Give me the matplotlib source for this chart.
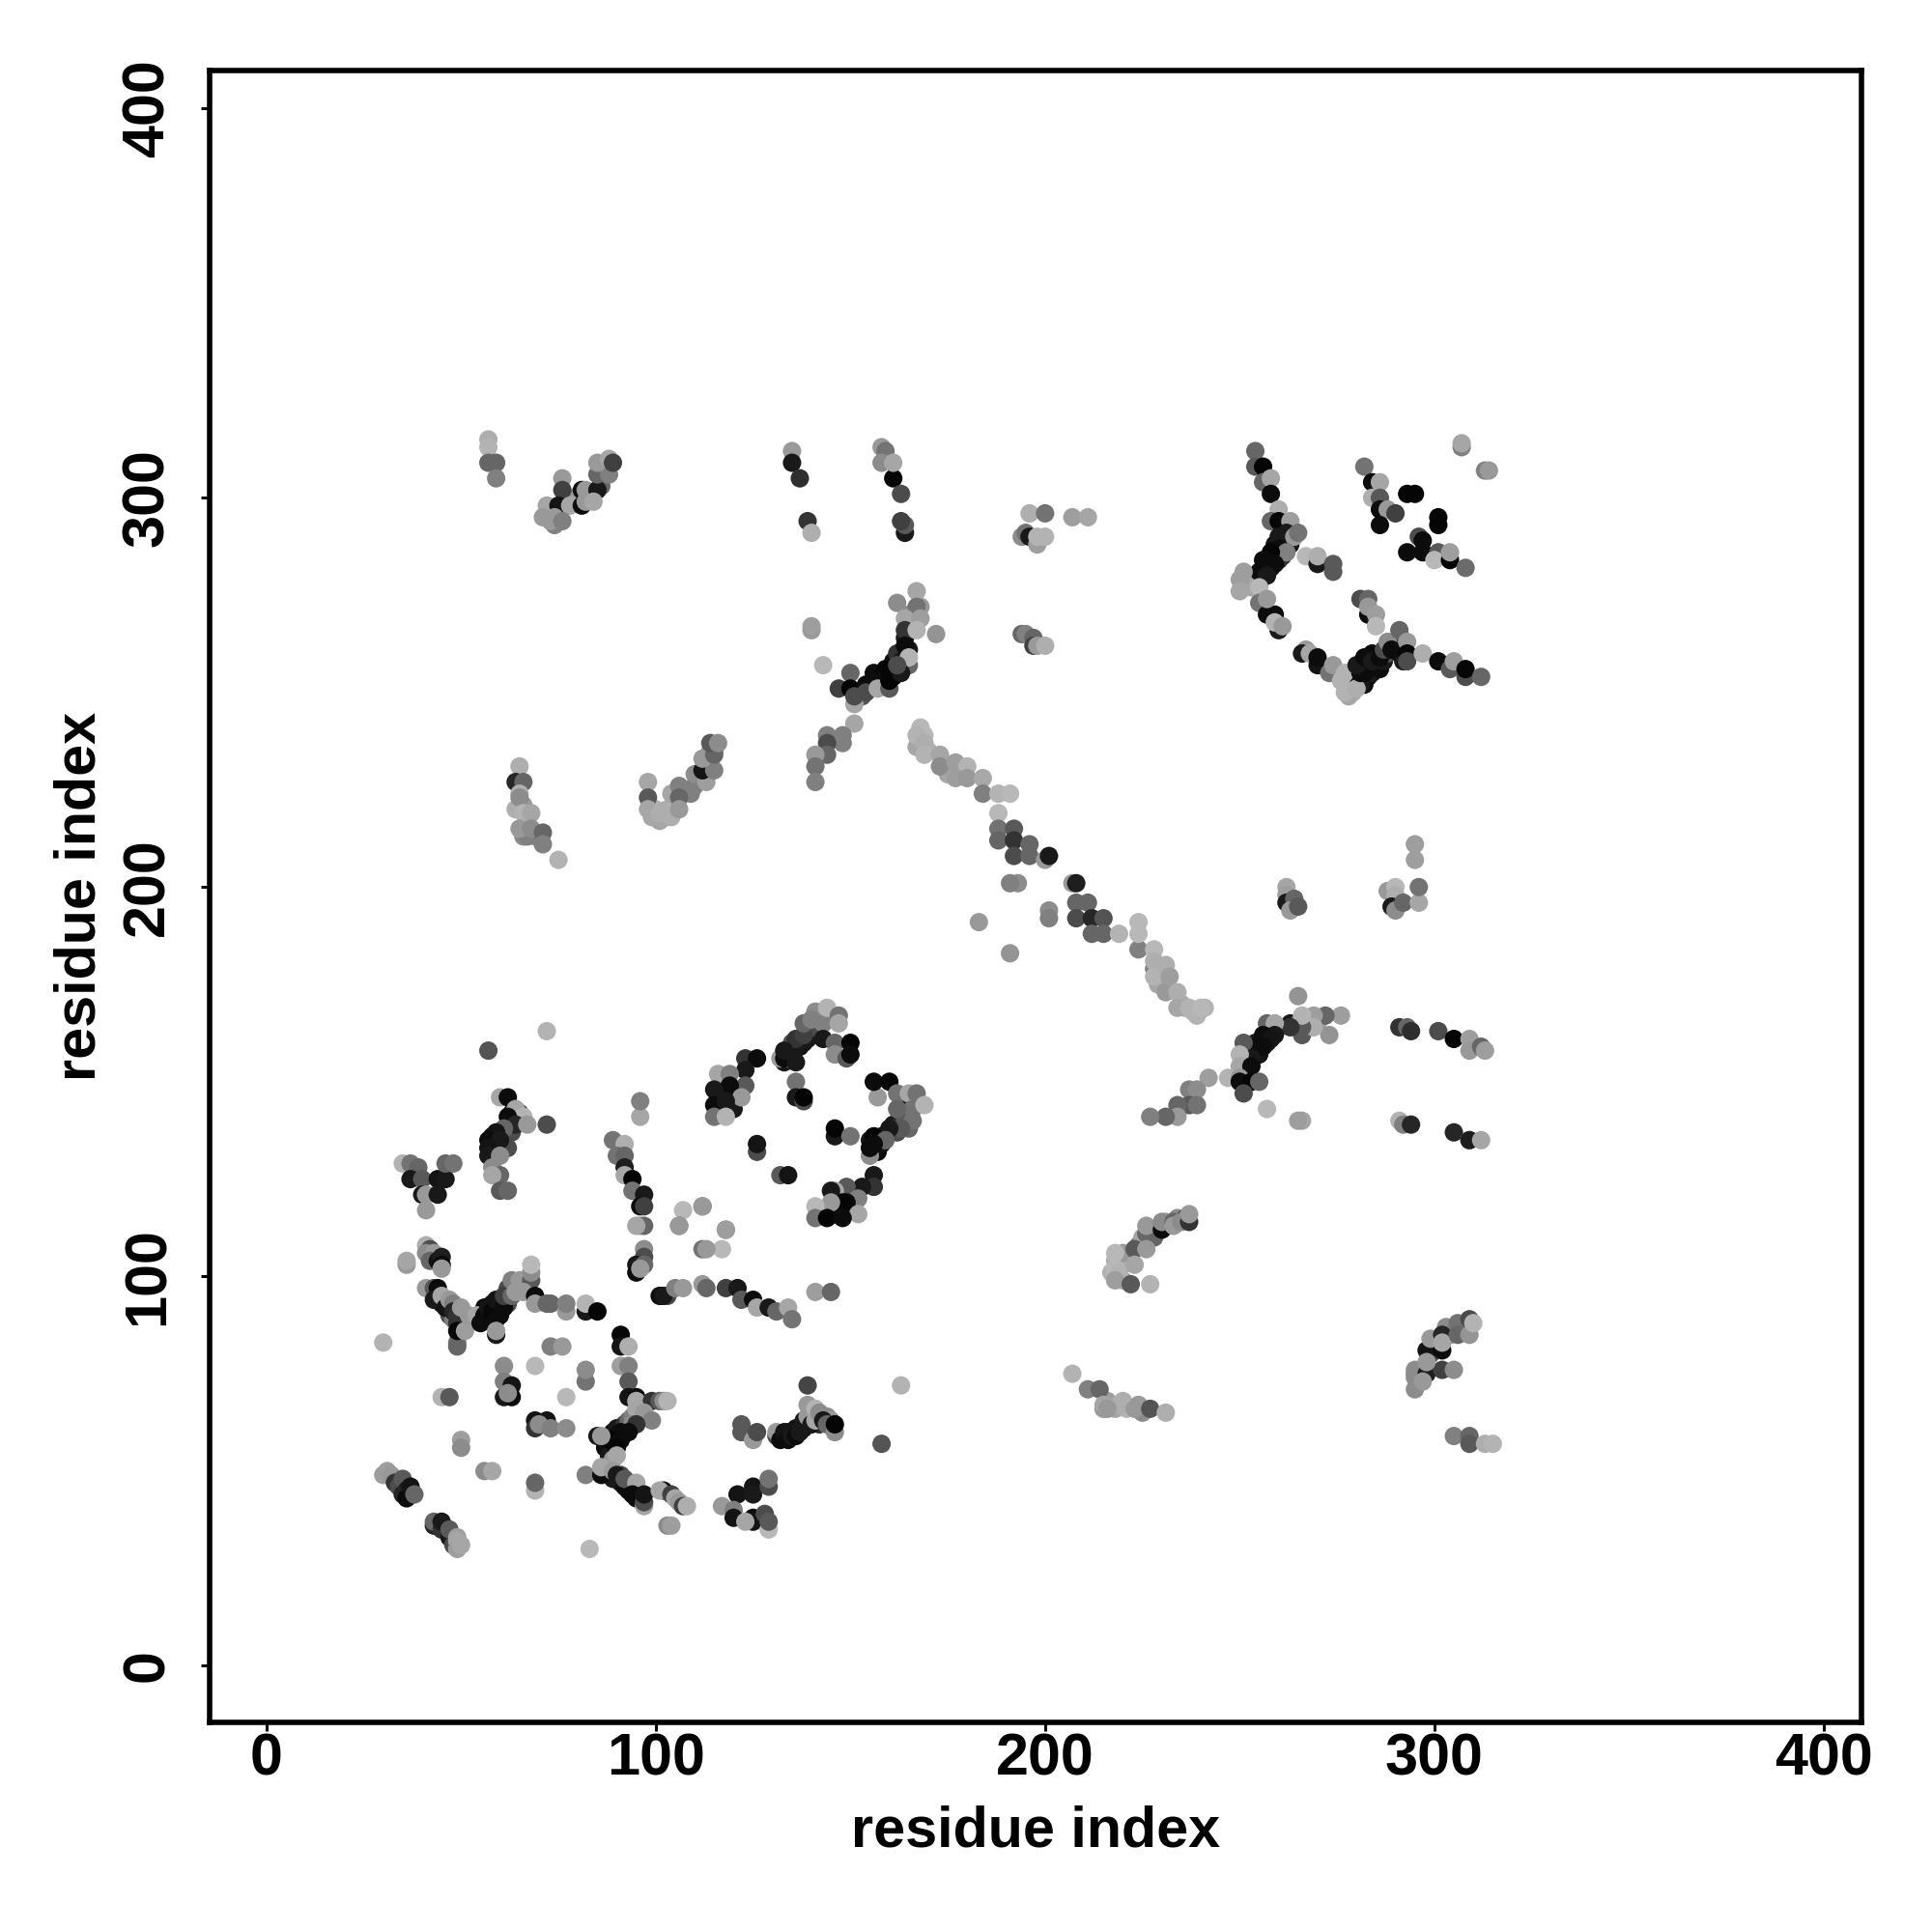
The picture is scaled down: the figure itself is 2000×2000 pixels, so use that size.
import numpy as np
import matplotlib
matplotlib.use('Agg')
import matplotlib.pyplot as plt

plt.rcParams['font.family'] = ['Liberation Sans', 'DejaVu Sans']

# (residue i, residue j, grey level)
dense_bands = [(55,90,.05),(56,92,.05),(57,89,.05),(58,93,.05),(59,91,.02),(60,90,.05),(60,94,.1),(61,93,.05),(62,97,.3),(62,93,.3),(65,97,.55),
               (44,95,.08),(45,93,.1),(46,94,.3),(47,90,.3),(47,92,.1),(48,89,.5),(49,88,.2),(50,89,.6),(51,88,.4),
               (87,56,.05),(88,56,.05),(89,57,.02),(89,60,.05),(90,61,.1),(91,58,.05),(92,60,.1),(92,62,.2),(93,63,.4),(94,64,.5),(96,64,.4),(88,54,.1),(89,53,.6),
               (88,49,.15),(89,48,.1),(91,47,.1),(91,49,.3),(93,47,.35),(93,45,.05),(95,45,.1),(95,43,.05),
               (58,134,.05),(59,133,.05),(58,136,.02),(60,137,.1),(61,136,.05),(62,139,.1),(63,142,.1),(63,137,.3),(62,133,.3),(64,141,.3),(65,142,.3),
               (133,155,.1),(134,156,.6),(135,158,.05),(135,160,.3),(137,159,.05),(137,161,.1),(138,160,.08),(139,163,.35),(139,161,.1),(140,164,.4),(141,164,.3),(141,168,.55),
               (157,132,.05),(158,134,.08),(159,136,.1),(160,137,.05),(161,139,.1),(162,137,.3),(163,139,.2),(164,141,.35),(165,138,.4),(155,135,.1),(163,144,.1),
               (148,117,.05),(146,116,.02),(146,118,.05),(150,118,.3),(150,121,.2),(147,121,.1),(116,146,.05),(117,148,.1),(118,150,.4),(120,146,.3),(120,143,.1),
               (256,282,.05),(257,284,.08),(258,282,.05),(259,285,.1),(259,288,.08),(260,284,.1),(261,288,.3),(261,285,.2),(262,289,.2),(263,288,.1),(263,291,.3),(253,279,.1),(254,279,.05),(255,278,.05),(252,280,.6),(251,278,.7),(253,277,.65),
               (282,252,.05),(283,254,.05),(284,255,.1),(285,257,.05),(286,256,.05),(287,258,.1),(288,260,.3),(283,256,.05),(280,253,.05),(281,252,.1),(279,250,.65),(278,249,.65),(290,262,.3),(291,260,.08),(292,258,.1),
               (155,252,.05),(156,255,.05),(158,254,.02),(158,252,.05),(159,256,.02),(161,254,.05),(161,258,.05),(162,260,.2),(163,258,.1),(164,264,.1),(165,261,.1),(153,249,.35),(165,267,.6),(166,268,.65),(165,270,.55),(168,272,.6),
               (252,156,.05),(253,157,.02),(254,158,.05),(254,160,.1),(255,157,.08),(256,161,.05),(257,160,.08),(251,155,.1),(252,153,.02),(258,163,.05),(252,150,.08),(249,151,.5),(267,166,.6),(268,165,.65),(270,165,.62),(263,165,.1),(265,165,.35),(266,162,.35),
               (295,75,.5),(296,75,.4),(297,74,.1),(299,80,.3),(300,82,.1),(303,87,.55),(304,85,.5),
               (133,59,.6),(134,60,.08),(136,60,.05),(137,61,.15),(138,61,.05),(139,62,.1),(140,64,.1),(141,65,.2),(142,62,.2),(144,64,.55),(145,63,.6),(131,59,.3),
               (222,105,.6),(228,112,.6),(231,114,.6),(234,115,.55),(236,115,.3),(228,110,.4),(224,108,.5),(219,100,.7),(220,99,.65),(220,103,.7),(217,101,.7),(218,104,.68),
               (215,66,.6),(216,68,.62),(218,66,.65),(220,68,.68),(221,66,.7),(224,67,.6),(225,65,.55),
               (80,299,.1),(83,300,.6),(86,305,.6),(86,303,.4),(72,296,.6),(74,293,.5),(75,295,.6),(79,300,.6),(87,307,.5),
               (99,218,.65),(100,220,.7),(101,217,.65),(103,218,.65),(104,218,.68),(109,224,.5),(111,228,.5),(114,232,.6),(113,231,.5),(115,235,.4),(114,235,.6),
               (66,221,.6),(64,220,.68),(66,213,.55),(67,217,.6),(69,213,.6),(67,213,.5),
               (229,175,.65),(236,169,.68),(238,168,.7),(235,170,.65),(168,237,.7),(167,236,.65),(169,239,.72),(170,235,.7),(175,229,.65)]

diag_low = [(30,49,.62),(31,50,.62),(32,49,.6),(33,47,.2),(34,46,.3),(35,48,.35),(36,45,.1),(35,44,.15),(36,43,.05),(37,46,.08),(38,44,.4),
            (43,36,.15),(43,37,.4),(45,35,.2),(45,37,.1),(47,33,.1),(47,35,.35),(48,31,.3),(49,33,.62),(49,32,.65),(49,30,.62),(50,31,.65)]

sw_singles = [(30,83,.7),(83,30,.72),(50,58,.62),(50,56,.55),(56,50,.55),(58,50,.65),(69,45,.7),(69,47,.4),(45,69,.7),(47,69,.35),
              (61,77,.55),(69,77,.72),(73,82,.5),(76,82,.6),(82,73,.45),(82,76,.55),(77,69,.72),(36,103,.6),(36,104,.65),
              (158,57,.33),(163,72,.7),(72,163,.7),(57,158,.33),(72,139,.3),(96,141,.65),(96,145,.5)]

sw_arm = [(41,108,.68),(42,107,.3),(41,106,.55),(43,106,.6),(42,104,.4),(44,104,.08),(45,105,.12),(45,103,.05),(45,102,.6),
          (41,97,.6),(43,97,.35),(44,97,.05),(43,94,.1),(45,95,.65),(46,92,.08),(47,94,.6),(48,93,.5),(48,91,.15),(49,90,.2),
          (49,83,.45),(49,82,.4),(49,86,.03),(51,86,.62),(50,92,.6),(52,90,.6),(54,90,.65),
          (56,90,.05),(55,88,.05),(57,92,.08),(58,91,.03),(59,89,.05),(59,94,.08),(61,92,.05),(59,85,.1),(59,86,.6),
          (61,95,.25),(63,95,.4),(63,99,.5),(65,99,.6),(64,96,.6),(68,99,.35),(68,101,.55),(68,103,.72),(66,96,.6),
          (69,95,.05),(69,93,.6),(72,93,.4),(73,93,.4),(77,91,.6),(77,93,.5),(82,91,.1),(82,93,.7),(85,91,.02)]

sw_ring = [(61,73,.5),(63,72,.08),(61,69,.1),(63,69,.05),(62,70,.55),(69,63,.08),(72,63,.08),(69,61,.2),(70,62,.55),(73,61,.5),(77,61,.55),
           (91,85,.03),(91,82,.08),(93,82,.68),(91,77,.62),(93,77,.5),(93,73,.35),(93,69,.08),(95,69,.05),(95,68,.65),(99,68,.2),(101,68,.35),(102,68,.55),(103,68,.7),
           (95,66,.65),(97,65,.6),(99,63,.5),(94,62,.55),(95,62,.2),(93,60,.05),(91,60,.05),(90,59,.05),(88,58,.02),(90,57,.05),(90,56,.02),(85,59,.1),(86,59,.6),(90,54,.65),
           (82,49,.5),(86,49,.05),(86,51,.65),(89,50,.6),(90,49,.1),(92,46,.05),(92,48,.35),(95,47,.65),(94,44,.05),(97,41,.65),(97,42,.3),(97,44,.08),
           (102,45,.05),(101,45,.65),(104,44,.25),(105,43,.65),(106,42,.6),(107,41,.25),(108,41,.68),(103,36,.55),(104,36,.62)]

south_mid = [(117,41,.6),(121,44,.08),(125,46,.08),(125,44,.1),(129,46,.3),(129,48,.45),(120,40,.5),(120,38,.08),(125,38,.05),(125,37,.08),(123,37,.65),(128,39,.3),(129,35,.72),(129,37,.35),
             (122,62,.35),(122,60,.35),(125,58,.6),(126,60,.3),(131,60,.6),(132,58,.05),(133,60,.08),(134,58,.05),(135,59,.1),(136,61,.08),(136,59,.05),(137,60,.1),(138,63,.1),
             (139,64,.6),(139,67,.6),(139,72,.27),(140,62,.1),(141,66,.7),(141,63,.65),(142,65,.55),(143,63,.1),(144,62,.4),(146,60,.55),(146,62,.02)]

row_96 = [(107,117,.72),(112,118,.45),(112,118,.6),(106,113,.45),(106,113,.6),(118,112,.45),(118,112,.62),(117,107,.72),(112,107,.45),(113,107,.6),
          (101,95,.05),(103,95,.3),(102,95,.1),(105,97,.5),(107,97,.6),(112,98,.6),(113,97,.4),(118,97,.25),(121,97,.1),(122,94,.35),(125,94,.05),(126,92,.65),(129,92,.1),(131,91,.4),(134,92,.65),(135,89,.45),(141,96,.62),(145,96,.4)]

west_stack = [(60,146,.65),(62,146,.05),(64,143,.65),(66,141,.7),(62,141,.05),(64,139,.15),(67,139,.6),(61,138,.4),(59,137,.08),(57,135,.05),(60,135,.1),(57,133,.08),(57,131,.1),(60,131,.55),(58,128,.55),(60,126,.4),(58,126,.65),(60,122,.35),(62,122,.4),
              (35,129,.7),(37,129,.45),(39,128,.4),(37,125,.1),(40,125,.35),(44,125,.08),(46,125,.1),(46,129,.4),(48,129,.45),(40,121,.1),(41,121,.6),(44,121,.1),(41,117,.6),
              (89,135,.45),(92,134,.68),(90,131,.45),(92,131,.4),(92,128,.12),(92,126,.65),(94,125,.02),(94,122,.45),(97,121,.1),(96,118,.05),(97,118,.25),(96,113,.6),(97,113,.4),(95,113,.65),(97,107,.55),(97,105,.3),(95,103,.1),(95,101,.05),(97,103,.4),(96,102,.6)]

ring_top = [(116,152,.65),(123,156,.2),(126,156,.05),(123,153,.1),(119,152,.5),(123,149,.35),(119,149,.05),(122,146,.6),(115,148,.1),(115,144,.05),(118,145,.1),(115,141,.45),(118,141,.7),
            (132,156,.6),(133,156,.05),(134,157,.05),(136,159,.1),(136,161,.2),(138,162,.25),(138,165,.4),(140,166,.5),(136,155,.1),(133,158,.1),(143,165,.5),(144,169,.7),(147,167,.45),(147,165,.65),(143,161,.1),(146,160,.4),(146,157,.55),(150,160,.02),(149,156,.35),(150,157,.05),
            (136,150,.45),(136,146,.1),(138,145,.3),(138,146,.02),(126,132,.3),(126,134,.08),(132,126,.35),(134,126,.08),(146,136,.1),(146,138,.02),(150,136,.45),
            (157,146,.6),(156,150,.05),(160,150,.02),(162,147,.45),(165,147,.65),(167,147,.45),(166,143,.45),(162,143,.4),(169,144,.7),(166,140,.45),(163,138,.35),(160,138,.1),(158,136,.1),(156,136,.02),(159,135,.4),(155,131,.55),(155,133,.05),(156,134,.05),
            (156,126,.1),(156,123,.2),(153,123,.1),(149,123,.35),(146,122,.65),(145,122,.1),(152,120,.5),(149,119,.05),(148,119,.02),(145,119,.6),(152,116,.65),(141,118,.72),(141,115,.45),(144,115,.02),(148,115,.05)]

north_west = [(57,315,.68),(57,313,.7),(57,309,.4),(59,309,.4),(59,305,.5),
              (76,305,.6),(76,302,.25),(72,298,.65),(75,298,.08),(78,298,.65),(71,295,.6),(73,294,.6),(74,295,.6),(76,294,.5),(81,298,.05),(81,302,.05),(82,302,.6),(82,299,.6),(85,302,.1),(84,299,.65),(85,306,.4),(88,306,.5),(85,309,.6),(88,310,.65),(89,309,.25),
              (135,312,.6),(135,309,.1),(137,305,.18),(139,294,.2),(140,291,.68),
              (158,313,.6),(159,312,.45),(158,309,.55),(161,305,.02),(161,309,.65),(163,301,.3),(164,291,.1),(164,293,.35),(163,294,.25),
              (194,290,.55),(195,291,.45),(196,290,.1),(196,296,.68),(198,288,.62),(198,290,.7),(200,296,.45),(200,290,.7),(207,295,.62),(211,295,.65),
              (194,265,.4),(195,265,.5),(197,264,.4),(197,262,.25),(198,262,.6),(200,262,.68)]

centre_arm = [(167,276,.65),(162,273,.55),(167,272,.45),(164,269,.65),(168,269,.62),(164,266,.2),(167,266,.7),(172,265,.58),(164,262,.05),(165,257,.4),(165,259,.7),
              (140,266,.6),(140,267,.62),(143,257,.72),(150,255,.4),(147,251,.25),(150,251,.02),(154,252,.05),(151,247,.65),(151,249,.3),(154,250,.3),(157,253,.05),(157,251,.65),(160,251,.35),(160,256,.02),(160,253,.02),(163,255,.1),(162,257,.3),
              (151,242,.65),(148,239,.5),(144,239,.5),(148,237,.5),(144,237,.3),(144,234,.4),(141,234,.6),(141,231,.45),(141,227,.5)]

diag_long = [(168,241,.72),(168,240,.72),(167,239,.7),(169,237,.68),(169,234,.7),(173,234,.65),(173,231,.55),(177,232,.62),(180,231,.7),(177,228,.62),(180,228,.6),(184,228,.66),(184,224,.5),(188,224,.7),(191,224,.72),(188,219,.72),
             (188,215,.45),(192,215,.35),(188,212,.4),(192,212,.2),(196,211,.4),(192,208,.3),(196,208,.4),(200,207,.6),(201,208,.1),(193,201,.55),(191,201,.5),(183,191,.6),(191,183,.58),(201,194,.55),(201,192,.5),
             (207,201,.6),(208,201,.12),(208,196,.4),(211,196,.4),(208,192,.3),(212,192,.15),(215,192,.33),(212,188,.4),(215,188,.4),(219,188,.7),
             (224,184,.5),(224,191,.72),(224,188,.72),(228,184,.72),(228,179,.5),(228,181,.68),(228,177,.7),(231,180,.68),(231,173,.6),(232,177,.62),(234,173,.68),(234,169,.65),(237,169,.7),(239,167,.7),(241,169,.7),(240,169,.72)]

west_mid = [(65,231,.68),(64,227,.15),(66,227,.4),(65,224,.68),(65,223,.55),(66,219,.7),(68,219,.65),(65,215,.6),(68,215,.55),(71,214,.4),(71,211,.5),(75,207,.7),
            (98,227,.65),(98,223,.35),(98,220,.65),(101,219,.68),(103,220,.68),(104,224,.65),(106,226,.5),(106,223,.4),(106,220,.6),(110,226,.5),(110,229,.55),(113,227,.62),(112,230,.08),(115,230,.5),(112,233,.6),(115,234,.4),(114,237,.35),(116,237,.55)]

north_east = [(254,312,.4),(254,308,.35),(256,308,.02),(256,304,.4),(258,305,.65),(258,301,.05),(260,297,.68),
              (258,294,.4),(260,294,.02),(263,294,.62),(262,291,.1),(260,290,.1),(264,290,.6),(265,291,.45),(260,287,.05),(262,286,.5),(258,286,.02),(256,284,.05),(259,283,.05),(255,281,.05),(257,280,.1),(251,281,.62),(250,279,.62),(250,276,.65),(255,277,.72),(255,273,.45),(257,270,.05),(259,270,.05),(257,274,.6),(260,266,.1),(259,268,.7),(261,267,.6),
              (267,285,.72),(270,283,.1),(270,285,.68),(274,283,.35),(274,281,.35),
              (282,308,.45),(284,304,.05),(286,304,.65),(284,300,.68),(286,300,.35),(286,297,.05),(288,297,.6),(290,296,.25),(286,293,.05),(293,301,.02),(295,301,.02),(301,295,.02),(301,293,.02),(296,290,.3),(297,289,.05),(293,286,.05),(297,286,.05),(301,286,.35),(300,284,.72),(304,284,.02),(304,286,.62),(308,282,.42),
              (307,313,.5),(307,314,.65),(313,307,.5),(314,307,.6),
              (281,274,.3),(283,274,.4),(283,270,.05),(283,272,.6),(285,270,.62),(285,267,.72),
              (267,261,.6),(266,260,.1),(268,260,.65),(270,257,.08),(270,259,.05),(273,255,.45),(274,257,.6),(277,255,.7),(276,253,.7),(277,250,.7),(280,251,.68),(281,255,.05),(282,255,.05),(280,257,.1),(282,259,.05),(284,260,.05),(284,258,.1),(286,259,.05),(287,261,.3),(288,263,.55),(289,261,.05),(291,266,.4),(293,263,.6),(293,260,.02),(293,258,.3),(297,260,.68),(301,258,.05),(304,256,.35),(305,258,.62),(308,254,.3),(308,256,.02),(312,254,.4)]

east_mid = [(262,200,.65),(262,198,.62),(262,196,.1),(264,197,.4),(263,194,.6),(265,195,.35),(288,199,.6),(290,200,.72),(290,198,.68),(289,195,.1),(290,194,.55),(292,196,.4),(296,196,.65),(296,200,.45),(295,211,.62),(295,207,.62),
            (265,172,.58),(276,167,.62),(273,162,.58),(272,167,.4),(269,167,.62),(269,164,.68),(266,164,.35),(266,167,.7),(263,164,.2),(260,164,.2),(257,165,.4),(259,165,.65),(259,162,.1),(256,162,.05),(258,161,.08),(256,159,.05),(253,159,.05),(251,160,.35),(253,156,.1),(250,157,.7),(250,154,.65),(253,154,.05),(247,151,.7),(250,151,.6),(250,150,.05),(253,150,.02),(255,150,.4),(251,147,.3),(257,143,.72),(266,140,.65),(265,140,.62),
            (242,151,.62),(237,148,.5),(239,148,.55),(237,144,.35),(239,144,.45),(234,144,.4),(234,141,.6),(231,141,.4),(227,141,.5),
            (291,164,.2),(293,164,.4),(294,163,.18),(301,163,.3),(305,161,.02),(309,161,.62),(309,158,.6),(312,159,.4),(313,158,.62),(291,140,.7),(292,139,.5),(294,139,.15),(305,137,.15),(309,135,.65),(309,135,.12),(312,135,.65)]

south_east = [(225,110,.65),(226,111,.4),(226,113,.6),(230,112,.05),(230,114,.55),(233,114,.4),(233,113,.6),(235,114,.55),(237,114,.2),(237,116,.6),
              (220,106,.6),(223,107,.35),(226,107,.6),(218,106,.72),(218,102,.72),(219,101,.7),(218,99,.62),(223,103,.65),(222,98,.35),(227,98,.7),
              (207,75,.7),(211,71,.5),(214,71,.4),(215,67,.65),(219,67,.68),(216,66,.6),(223,66,.6),(227,66,.33),(231,65,.68),
              (295,76,.55),(295,74,.55),(295,71,.55),(298,75,.12),(297,73,.6),(302,76,.25),(305,76,.55),(298,81,.08),(298,78,.6),(299,84,.6),(302,85,.15),(302,81,.05),(302,83,.65),(306,88,.45),(306,85,.4),(309,85,.58),(309,89,.3),(310,88,.7),
              (305,59,.5),(309,59,.4),(309,57,.35),(313,57,.68),(315,57,.7)]

regions = [dense_bands, diag_low, sw_singles, sw_arm, sw_ring, south_mid, row_96, west_stack, ring_top, north_west,
           centre_arm, diag_long, west_mid, north_east, east_mid, south_east]
ticks = [0, 100, 200, 300, 400]


def main():
    pts = np.array([p for r in regions for p in r])

    fig = plt.figure(figsize=(10, 10), dpi=200)
    ax = fig.add_axes([0.1085, 0.1084, 0.8552, 0.8552])
    ax.scatter(pts[:, 0], pts[:, 1], c=pts[:, 2], cmap='gray', vmin=0, vmax=1, s=47, linewidths=0)
    ax.set_xlim(-14.6, 409.8)
    ax.set_ylim(-14.6, 409.8)

    ax.set_xticks(ticks)
    ax.set_yticks(ticks)
    ax.tick_params(length=3.2, width=1.1, labelsize=22)
    ax.tick_params(axis='x', pad=0.5)
    ax.tick_params(axis='y', pad=9.3)
    for t in ax.get_xticklabels() + ax.get_yticklabels():
        t.set_fontweight('bold')
    for t in ax.get_yticklabels():
        t.set_rotation(90)
        t.set_va('center')

    ax.set_xlabel('residue index', fontsize=21.4, fontweight='bold')
    ax.set_ylabel('residue index', fontsize=21.4, fontweight='bold')
    ax.xaxis.set_label_coords(0.5, -0.05)
    ax.yaxis.set_label_coords(-0.0623, 0.5)
    for s in ax.spines.values():
        s.set_linewidth(2)

    fig.savefig('out.png', dpi=200)


if __name__ == '__main__':
    main()
